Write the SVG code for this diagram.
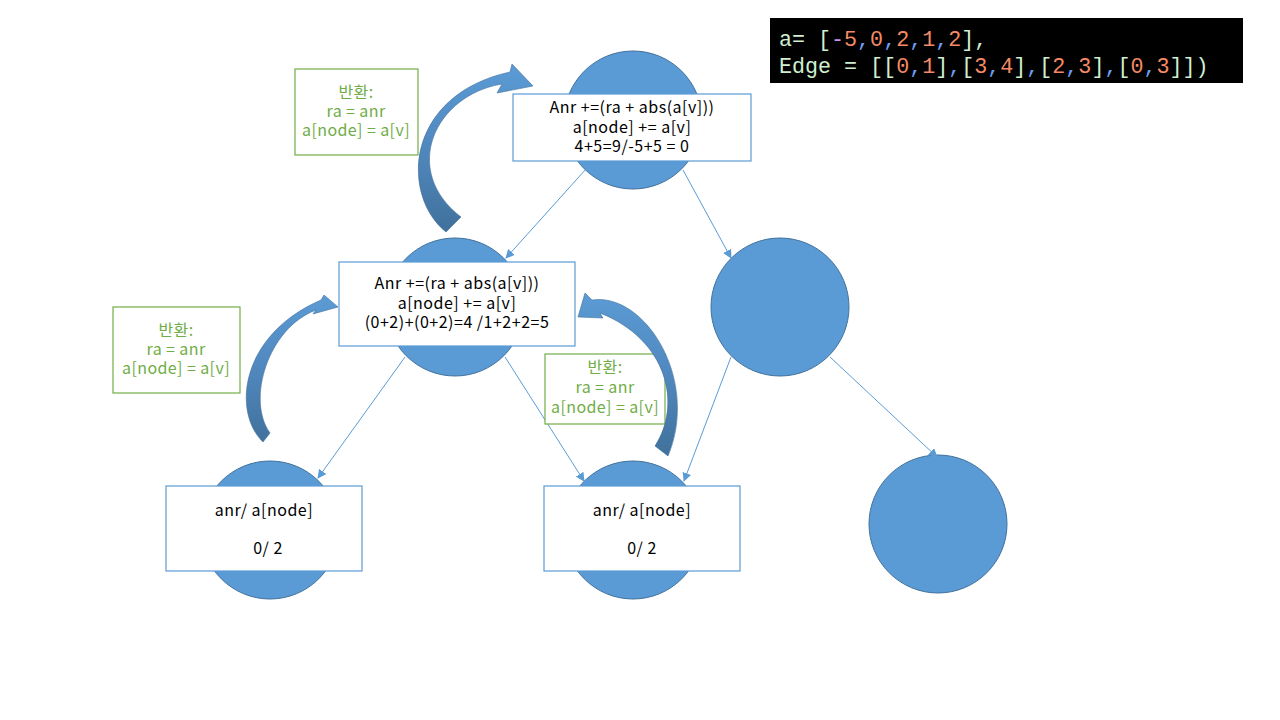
<svg xmlns="http://www.w3.org/2000/svg" width="1280" height="720" viewBox="0 0 1280 720">
<defs>
<style>
.node{fill:#5B9BD5;stroke:#41719C;stroke-width:1}
.box{fill:#FFFFFF;stroke:#5B9BD5;stroke-width:1.2}
.gbox{fill:#FFFFFF;stroke:#70AD47;stroke-width:1.2}
.t{font-family:"Noto Sans CJK KR","Noto Sans",sans-serif;font-size:16px;letter-spacing:0.5px;fill:#000000;text-anchor:middle}
.g{font-family:"Noto Sans CJK KR","Noto Sans",sans-serif;font-size:16px;letter-spacing:0.4px;fill:#70AD47;text-anchor:middle}
.edge{stroke:#5B9BD5;stroke-width:1;fill:none;marker-end:url(#ah)}
.code{font-family:"Liberation Mono","DejaVu Sans Mono",monospace;font-size:21.7px;fill:#CFEFD0}
.n{fill:#F58A66}
.c{fill:#6C9EF0}
.m{fill:#C792EA}
.curve{fill:url(#cg);stroke:#41719C;stroke-width:0.6}
</style>
<marker id="ah" viewBox="0 0 10 10" refX="9" refY="5" markerWidth="9" markerHeight="9" markerUnits="userSpaceOnUse" orient="auto">
<path d="M0,0 L10,5 L0,10 Z" fill="#5B9BD5"/>
</marker>
<linearGradient id="cg" x1="0" y1="0" x2="0" y2="1">
<stop offset="0" stop-color="#5B9BD5"/>
<stop offset="0.5" stop-color="#5088BE"/>
<stop offset="1" stop-color="#41719C"/>
</linearGradient>
</defs>
<rect width="1280" height="720" fill="#FFFFFF"/>

<g id="node-0"><circle class="node" cx="633" cy="120" r="69"/></g>
<g id="node-1"><circle class="node" cx="455" cy="307" r="69"/></g>
<g id="node-3"><circle class="node" cx="780" cy="307" r="69"/></g>
<g id="node-leaf-left"><circle class="node" cx="270" cy="530" r="69"/></g>
<g id="node-2"><circle class="node" cx="633" cy="530" r="69"/></g>
<g id="node-4"><circle class="node" cx="938" cy="524" r="69"/></g>

<g id="connectors">
<line class="edge" x1="586" y1="169" x2="506" y2="258"/>
<line class="edge" x1="683" y1="170" x2="731" y2="258"/>
<line class="edge" x1="405" y1="357" x2="318" y2="478"/>
<line class="edge" x1="505" y1="357" x2="584" y2="481"/>
<line class="edge" x1="731" y1="357" x2="684" y2="481"/>
<line class="edge" x1="830" y1="357" x2="937" y2="457"/>
</g>

<g id="box-top">
<rect class="box" x="513" y="94" width="238" height="67"/>
<text class="t" x="632" y="113">Anr +=(ra + abs(a[v]))</text>
<text class="t" x="632" y="133">a[node] += a[v]</text>
<text class="t" x="632" y="152">4+5=9/-5+5 = 0</text>
</g>

<g id="box-mid">
<rect class="box" x="339" y="262" width="236" height="84"/>
<text class="t" x="457" y="289">Anr +=(ra + abs(a[v]))</text>
<text class="t" x="457" y="309">a[node] += a[v]</text>
<text class="t" x="457" y="328">(0+2)+(0+2)=4 /1+2+2=5</text>
</g>

<g id="box-bottom-left">
<rect class="box" x="166" y="486" width="196" height="85"/>
<text class="t" x="264" y="516">anr/ a[node]</text>
<text class="t" x="268" y="554">0/ 2</text>
</g>

<g id="box-bottom-mid">
<rect class="box" x="544" y="486" width="196" height="85"/>
<text class="t" x="642" y="516">anr/ a[node]</text>
<text class="t" x="642" y="554">0/ 2</text>
</g>

<g id="return-1">
<rect class="gbox" x="295" y="69" width="123" height="86"/>
<text class="g" x="356" y="98">반환:</text>
<text class="g" x="356" y="117">ra = anr</text>
<text class="g" x="356" y="136">a[node] = a[v]</text>
</g>

<g id="return-2">
<rect class="gbox" x="113" y="307" width="127" height="86"/>
<text class="g" x="176" y="336">반환:</text>
<text class="g" x="176" y="355">ra = anr</text>
<text class="g" x="176" y="374">a[node] = a[v]</text>
</g>

<g id="return-3">
<rect class="gbox" x="545" y="354" width="120" height="70"/>
<text class="g" x="605" y="373">반환:</text>
<text class="g" x="605" y="393">ra = anr</text>
<text class="g" x="605" y="413">a[node] = a[v]</text>
</g>

<g id="curved-arrow-1">
<path class="curve" d="M446,232 C400,195 405,95 510,72 L512,64 L533,86 L497,93 L502,84 C435,95 400,170 461,217 Z"/>
</g>
<g id="curved-arrow-2">
<path class="curve" d="M263,442 C232,412 240,335 321,300 L324,295 L338,307 L313,314 L316,310 C268,328 246,400 270,433 Z"/>
</g>
<g id="curved-arrow-3">
<path class="curve" d="M592,300 C645,292 700,380 668,456 L655,446 C682,405 668,340 600,313 L603,318 L578,317 L585,293 Z"/>
</g>

<g id="code">
<rect x="770" y="18" width="473" height="65" fill="#000000"/>
<text class="code" x="779" y="46" xml:space="preserve">a= [<tspan class="m">-</tspan><tspan class="n">5</tspan><tspan class="c">,</tspan><tspan class="n">0</tspan><tspan class="c">,</tspan><tspan class="n">2</tspan><tspan class="c">,</tspan><tspan class="n">1</tspan><tspan class="c">,</tspan><tspan class="n">2</tspan>],</text>
<text class="code" x="779" y="73" xml:space="preserve">Edge = [[<tspan class="n">0</tspan><tspan class="c">,</tspan><tspan class="n">1</tspan>]<tspan class="c">,</tspan>[<tspan class="n">3</tspan><tspan class="c">,</tspan><tspan class="n">4</tspan>]<tspan class="c">,</tspan>[<tspan class="n">2</tspan><tspan class="c">,</tspan><tspan class="n">3</tspan>]<tspan class="c">,</tspan>[<tspan class="n">0</tspan><tspan class="c">,</tspan><tspan class="n">3</tspan>]])</text>
</g>
</svg>
